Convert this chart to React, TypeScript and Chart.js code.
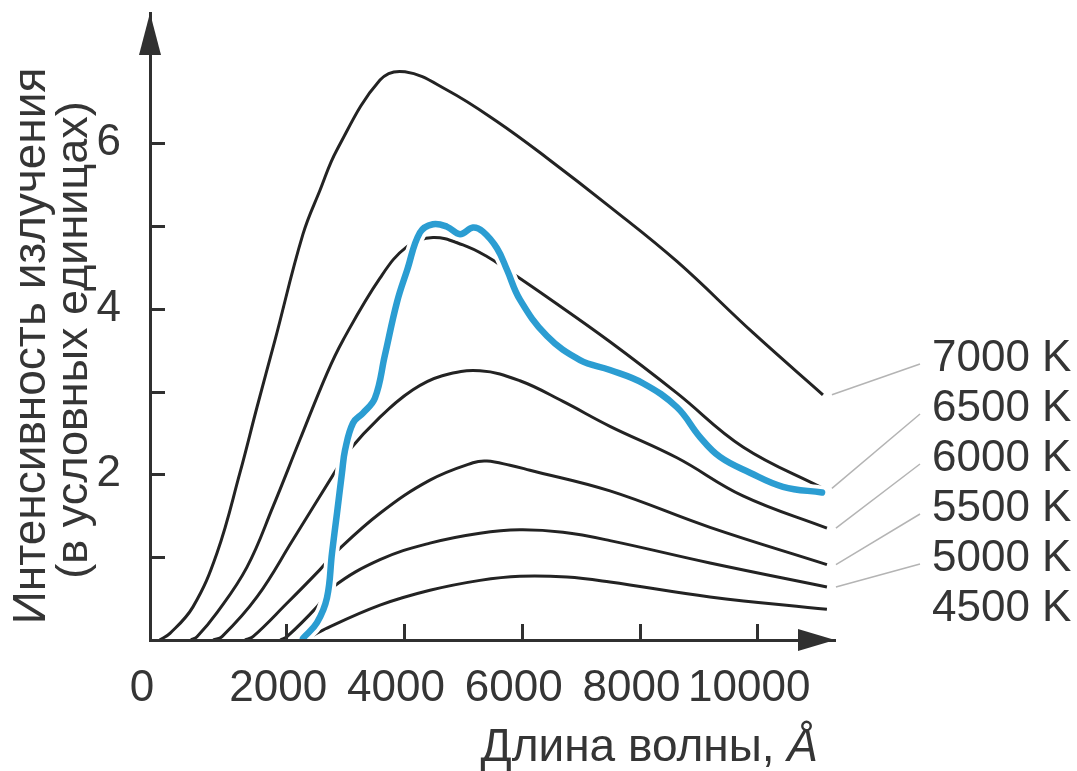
import React, { useEffect, useRef } from "react";
import { Chart, registerables } from "chart.js";

Chart.register(...registerables);

// ---- data (wavelength in Å, intensity in arbitrary units) ----
const wave7000 = [-150, 25, 416, 824, 1214, 1503, 1809, 2284, 2573, 2862, 3592, 4017, 4730, 5579, 6428, 7498, 8636, 9927, 11115];
const int7000 = [0, 0.08, 0.4, 1.05, 2.02, 2.81, 3.62, 4.9, 5.43, 5.92, 6.76, 6.86, 6.64, 6.26, 5.82, 5.23, 4.57, 3.71, 2.96];

const wave6500 = [380, 484, 824, 1333, 1775, 2233, 2692, 2964, 3592, 4051, 4493, 5001, 5409, 5749, 6428, 7498, 8636, 9757, 11115];
const int6500 = [0, 0.04, 0.33, 0.88, 1.61, 2.42, 3.22, 3.62, 4.37, 4.75, 4.86, 4.77, 4.63, 4.47, 4.14, 3.6, 2.98, 2.33, 1.83];

const wave6000 = [760, 909, 1503, 2114, 2828, 3032, 3592, 4152, 4650, 5290, 5969, 6700, 7498, 8636, 9757, 11183];
const int6000 = [0, 0.04, 0.52, 1.21, 2.03, 2.26, 2.69, 3.02, 3.19, 3.25, 3.13, 2.88, 2.58, 2.2, 1.74, 1.35];

const wave5500 = [1300, 1435, 2007, 2573, 2828, 3592, 4440, 5171, 5409, 5800, 6139, 7498, 9197, 11183];
const int5500 = [0, 0.04, 0.44, 0.85, 1.05, 1.53, 1.93, 2.14, 2.16, 2.11, 2.05, 1.8, 1.36, 0.91];

const wave5000 = [1900, 2013, 2522, 2794, 3592, 4440, 5290, 5969, 6700, 7498, 9197, 11183];
const int5000 = [0, 0.04, 0.4, 0.64, 0.97, 1.17, 1.29, 1.33, 1.3, 1.2, 0.93, 0.64];

const wave4500 = [2320, 2624, 3592, 4440, 5290, 5969, 6768, 7498, 9197, 11183];
const int4500 = [0, 0.12, 0.42, 0.6, 0.72, 0.77, 0.76, 0.7, 0.52, 0.37];

const sunWave = [2284, 2522, 2692, 2777, 2862, 2947, 2998, 3134, 3303, 3506, 3676, 3881, 4051, 4271, 4492, 4730, 4951, 5171, 5341, 5579, 5749, 5969, 6428, 6989, 7498, 8058, 8636, 9027, 9367, 9876, 10437, 11100];
const sunInt = [0.02, 0.21, 0.51, 1.05, 1.53, 2.02, 2.29, 2.62, 2.74, 2.92, 3.44, 4.08, 4.46, 4.92, 5.02, 4.99, 4.9, 4.98, 4.93, 4.73, 4.47, 4.11, 3.67, 3.38, 3.26, 3.1, 2.81, 2.45, 2.21, 2.02, 1.85, 1.78];

const seriesLabels = ["7000 K", "6500 K", "6000 K", "5500 K", "5000 K", "4500 K"];
const leaderShown = [true, true, true, true, true, false];

const xTickValues = [2000, 4000, 6000, 8000, 10000];
const xTickLabels = ["2000", "4000", "6000", "8000", "10000"];
const originLabel = "0";
const yTickMarks = [1, 2, 3, 4, 5, 6];
const yTickLabelled = [2, 4, 6];

const xMin = -314;
const xMax = 11320;
const yMin = 0;
const yMax = 7.57;

const yTitleLines = ["Интенсивность излучения", "(в условных единицах)"];
const xTitleMain = "Длина волны, ";
const xTitleUnit = "Å";

// ---- styles ----
const FAMILY = '"Liberation Sans", Arial, Helvetica, sans-serif';
const TEXT = "#353535";
const AXIS = "#303030";
const CURVE = "#232323";
const SUN = "#2b9dd2";

const pts = (xs: number[], ys: number[]) => xs.map((x, i) => ({ x, y: ys[i] }));

const decorPlugin = {
  id: "decor",
  afterDraw(chart: any) {
    const { ctx, chartArea: a } = chart;
    const xs = chart.scales.x;
    const ys = chart.scales.y;
    ctx.save();

    // inward tick marks
    ctx.strokeStyle = AXIS;
    ctx.lineWidth = 3;
    yTickMarks.forEach((v) => {
      const py = Math.round(ys.getPixelForValue(v)) + 0.5;
      ctx.beginPath();
      ctx.moveTo(a.left, py);
      ctx.lineTo(a.left + 15, py);
      ctx.stroke();
    });
    xTickValues.forEach((v) => {
      const px = Math.round(xs.getPixelForValue(v)) + 0.5;
      ctx.beginPath();
      ctx.moveTo(px, a.bottom);
      ctx.lineTo(px, a.bottom - 16);
      ctx.stroke();
    });

    // arrow heads
    ctx.fillStyle = AXIS;
    ctx.beginPath();
    ctx.moveTo(a.left, a.top);
    ctx.lineTo(a.left - 11, a.top + 42);
    ctx.lineTo(a.left + 11, a.top + 42);
    ctx.closePath();
    ctx.fill();
    ctx.beginPath();
    ctx.moveTo(a.right, a.bottom);
    ctx.lineTo(a.right - 37, a.bottom - 11);
    ctx.lineTo(a.right - 37, a.bottom + 11);
    ctx.closePath();
    ctx.fill();

    // axis titles
    ctx.fillStyle = TEXT;
    ctx.font = `46px ${FAMILY}`;
    ctx.textAlign = "center";
    ctx.textBaseline = "alphabetic";
    ctx.save();
    ctx.translate(45, 346);
    ctx.rotate(-Math.PI / 2);
    ctx.fillText(yTitleLines[0], 0, 0);
    ctx.restore();
    ctx.save();
    ctx.translate(87, 340);
    ctx.rotate(-Math.PI / 2);
    ctx.font = `45px ${FAMILY}`;
    ctx.fillText(yTitleLines[1], 0, 0);
    ctx.restore();

    ctx.textAlign = "right";
    ctx.font = `italic 46px ${FAMILY}`;
    const unitW = ctx.measureText(xTitleUnit).width;
    ctx.fillText(xTitleUnit, 818, 761);
    ctx.font = `46px ${FAMILY}`;
    ctx.fillText(xTitleMain, 818 - unitW, 761);

    // series labels with leader lines
    const labelX = 932;
    const labelTop = 359;
    const labelStep = 50;
    ctx.font = `44px ${FAMILY}`;
    ctx.textAlign = "left";
    ctx.textBaseline = "middle";
    chart.data.datasets.forEach((ds: any, i: number) => {
      if (ds.seriesIndex === undefined) return;
      const k = ds.seriesIndex;
      const ly = labelTop + k * labelStep;
      ctx.fillStyle = TEXT;
      ctx.fillText(seriesLabels[k], labelX, ly);
      if (leaderShown[k]) {
        const meta = chart.getDatasetMeta(i);
        const last = meta.data[meta.data.length - 1];
        ctx.strokeStyle = "#b4b4b4";
        ctx.lineWidth = 1.5;
        ctx.beginPath();
        ctx.moveTo(last.x + 9, last.y);
        ctx.lineTo(labelX - 12, ly + 5);
        ctx.stroke();
      }
    });

    ctx.restore();
  },
};

export default function App() {
  const ref = useRef<HTMLCanvasElement | null>(null);

  useEffect(() => {
    if (!ref.current) return;
    const curves = [
      [wave7000, int7000],
      [wave6500, int6500],
      [wave6000, int6000],
      [wave5500, int5500],
      [wave5000, int5000],
      [wave4500, int4500],
    ];
    const datasets: any[] = [
      {
        data: pts(sunWave, sunInt),
        borderColor: SUN,
        borderWidth: 6.5,
        borderCapStyle: "round",
        borderJoinStyle: "round",
        order: 0,
      },
      {
        data: pts(sunWave, sunInt),
        borderColor: "#ffffff",
        borderWidth: 14,
        borderCapStyle: "round",
        borderJoinStyle: "round",
        order: 1,
      },
      ...curves.map(([xs, ys], k) => ({
        data: pts(xs, ys),
        borderColor: CURVE,
        borderWidth: 3,
        order: 2,
        seriesIndex: k,
      })),
    ];

    const chart = new Chart(ref.current, {
      type: "line",
      data: { datasets },
      options: {
        animation: false,
        responsive: false,
        events: [],
        layout: { padding: { left: 0, top: 13, right: 242, bottom: 0 } },
        elements: {
          point: { radius: 0 },
          line: { tension: 0.4, fill: false },
        },
        plugins: { legend: { display: false }, tooltip: { enabled: false } },
        scales: {
          x: {
            type: "linear",
            min: xMin,
            max: xMax,
            grid: { display: false },
            border: { display: true, color: AXIS, width: 3, z: 1 },
            afterBuildTicks: (s: any) => {
              s.ticks = [{ value: xMin }, ...xTickValues.map((v) => ({ value: v }))];
            },
            afterFit: (s: any) => {
              s.height = 131;
              s.paddingLeft = 0;
              s.paddingRight = 0;
              s.paddingTop = 0;
              s.paddingBottom = 0;
            },
            ticks: {
              autoSkip: false,
              maxRotation: 0,
              padding: 14,
              labelOffset: -8,
              color: TEXT,
              font: { family: FAMILY, size: 44 },
              callback: (_v: any, i: number) => (i === 0 ? originLabel : xTickLabels[i - 1]),
            },
          },
          y: {
            type: "linear",
            min: yMin,
            max: yMax,
            grid: { display: false },
            border: { display: true, color: AXIS, width: 3, z: 1 },
            afterBuildTicks: (s: any) => {
              s.ticks = yTickLabelled.map((v) => ({ value: v }));
            },
            afterFit: (s: any) => {
              s.width = 150;
              s.paddingLeft = 0;
              s.paddingRight = 0;
              s.paddingTop = 0;
              s.paddingBottom = 0;
            },
            ticks: {
              padding: 21,
              color: TEXT,
              font: { family: FAMILY, size: 44 },
              callback: (v: any) => String(v),
            },
          },
        },
      },
      plugins: [decorPlugin],
    });
    return () => chart.destroy();
  }, []);

  return (
    <div style={{ position: "fixed", left: 0, top: 0, width: 1077, height: 771, background: "#fff" }}>
      <canvas ref={ref} width={1077} height={771} style={{ display: "block" }} />
    </div>
  );
}
